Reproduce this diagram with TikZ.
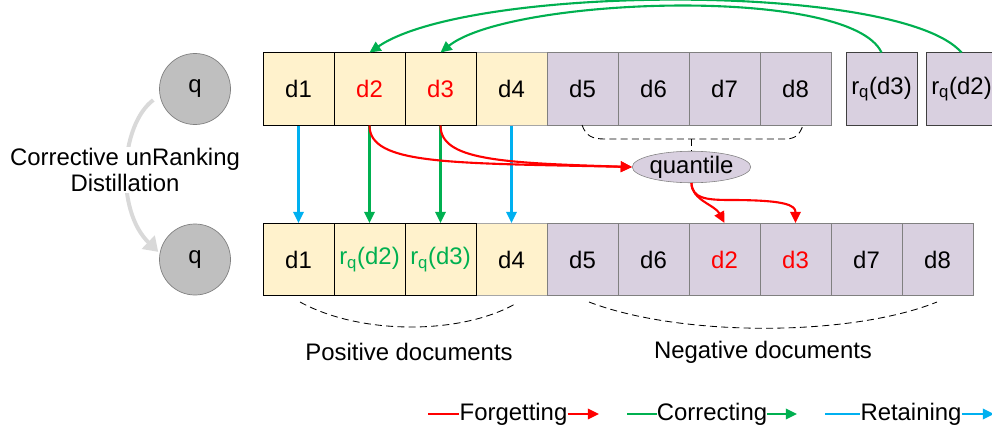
\documentclass[tikz,border=0pt]{standalone}
\usepackage{fontspec}
\setmainfont{Liberation Sans}
\usetikzlibrary{arrows.meta,shapes.geometric}

\definecolor{posfill}{HTML}{FFF2CC}
\definecolor{negfill}{HTML}{D9D0E0}
\definecolor{qgray}{HTML}{BFBFBF}
\definecolor{fgred}{HTML}{FF0000}
\definecolor{cogreen}{HTML}{00B050}
\definecolor{reblue}{HTML}{00B0F0}
\definecolor{arcgray}{HTML}{D9D9D9}

\begin{document}
\begin{tikzpicture}[
 x=0.025cm, y=-0.025cm,
 >={Triangle[length=8pt,width=7.5pt]},
 font=\fontsize{17}{18.5}\selectfont,
 align=center,
 doc/.style={rectangle,minimum width=1.775cm,minimum height=1.8cm,inner sep=0pt,line width=0.7pt},
 posdoc/.style={doc,draw=black,fill=posfill},
 posdocb/.style={doc,draw=gray!70,fill=posfill},
 negdoc/.style={doc,draw=gray,fill=negfill},
 extdoc/.style={doc,draw=black!75,fill=negfill},
 query/.style={circle,draw=gray,fill=qgray,minimum size=1.775cm,inner sep=0pt,line width=0.5pt},
 quant/.style={ellipse,draw=gray,fill=negfill,minimum width=2.825cm,minimum height=0.725cm,inner sep=0pt},
 legend/.style={inner sep=0pt},
 flow/.style={line width=1.5pt},
 group/.style={line width=0.6pt,dash pattern=on 5pt off 3pt}
]
\useasboundingbox (0,0) rectangle (992,433);

% queries
\node (qa) [query] at (195,89) {q};
\node (qb) [query] at (195,259.5) {q};

% original ranking
\node (t4) [posdocb] at (511.5,89) {d4};
\node (t1) [posdoc] at (298.5,89) {d1};
\node (t2) [posdoc] at (369.5,89) {\textcolor{fgred}{d2}};
\node (t3) [posdoc] at (440.5,89) {\textcolor{fgred}{d3}};
\node (t5) [negdoc] at (582.5,89) {d5};
\node (t6) [negdoc] at (653.5,89) {d6};
\node (t7) [negdoc] at (724.5,89) {d7};
\node (t8) [negdoc] at (795.5,89) {d8};
\node (rq3) [extdoc] at (881.5,89) {r\textsubscript{q}(d3)};
\node (rq2) [extdoc] at (961.5,89) {r\textsubscript{q}(d2)};

% corrected ranking
\node (b4) [posdocb] at (511.5,259.5) {d4};
\node (b1) [posdoc] at (298.5,259.5) {d1};
\node (b2) [posdoc] at (369.5,259.5) {\textcolor{cogreen}{r\textsubscript{q}(d2)}};
\node (b3) [posdoc] at (440.5,259.5) {\textcolor{cogreen}{r\textsubscript{q}(d3)}};
\node (b5) [negdoc] at (582.5,259.5) {d5};
\node (b6) [negdoc] at (653.5,259.5) {d6};
\node (b7) [negdoc] at (724.5,259.5) {\textcolor{fgred}{d2}};
\node (b8) [negdoc] at (795.5,259.5) {\textcolor{fgred}{d3}};
\node (b9) [negdoc] at (866.5,259.5) {d7};
\node (b10) [negdoc] at (937.5,259.5) {d8};

\node (qt) [quant] at (691.5,167) {quantile};

% distillation arc
\draw[arcgray,line width=2.8pt,shorten <=0.2cm,shorten >=0.05cm,
 -{Triangle[length=0.35cm,width=0.45cm]}]
 (qa.190) .. controls (120,125) and (115,210) .. (qb.170);
\node (cud) [fill=white,inner sep=1pt] at (125,170) {Corrective unRanking\\Distillation};

% correcting
\draw[->,flow,cogreen] (rq2.north) .. controls (900,-18) and (470,-16) .. (t2.north);
\draw[->,flow,cogreen] (rq3.north) .. controls (850,-15) and (510,-3) .. (t3.north);
\draw[->,flow,cogreen] (t2.south) -- (b2.north);
\draw[->,flow,cogreen] (t3.south) -- (b3.north);

% retaining
\draw[->,flow,reblue] (t1.south) -- (b1.north);
\draw[->,flow,reblue] (t4.south) -- (b4.north);

% forgetting
\draw[->,flow,fgred] (t2.south) .. controls (369.5,165) and (450,163) .. (qt.west);
\draw[->,flow,fgred] (t3.south) .. controls (440.5,160) and (500,163) .. (qt.west);
\draw[->,flow,fgred] (qt.south) .. controls (691.5,200) and (715,205) .. (b7.north);
\draw[->,flow,fgred] (qt.south) .. controls (692,198) and (705,200) .. (730,200)
 .. controls (785,200) and (795.5,205) .. (b8.north);

% quantile bracket
\draw[group] (582,125) .. controls (586,136) and (592,139) .. (605,139)
 -- (785,139) .. controls (796,139) and (800,134) .. (803,125);
\draw[group] (691.5,139) -- (qt.north);

% groups
\draw[group] (300,302) .. controls (360,335) and (460,335) .. (515,304);
\draw[group] (589,302) .. controls (680,337) and (850,337) .. (937,302);
\node (posl) at (409,352) {Positive documents};
\node (negl) at (763,352) {Negative documents};

% legend
\node (lf) [legend] at (513.5,414) {Forgetting};
\node (lc) [legend] at (712,414) {Correcting};
\node (lr) [legend] at (911,414) {Retaining};
\coordinate (lf0) at (428,414);
\coordinate (lf1) at (599,414);
\coordinate (lc0) at (627,414);
\coordinate (lc1) at (797,414);
\coordinate (lr0) at (825,414);
\coordinate (lr1) at (994,414);
\draw[flow,fgred] (lf0) -- (lf.west);
\draw[->,flow,fgred] (lf.east) -- (lf1);
\draw[flow,cogreen] (lc0) -- (lc.west);
\draw[->,flow,cogreen] (lc.east) -- (lc1);
\draw[flow,reblue] (lr0) -- (lr.west);
\draw[->,flow,reblue] (lr.east) -- (lr1);
\end{tikzpicture}
\end{document}
